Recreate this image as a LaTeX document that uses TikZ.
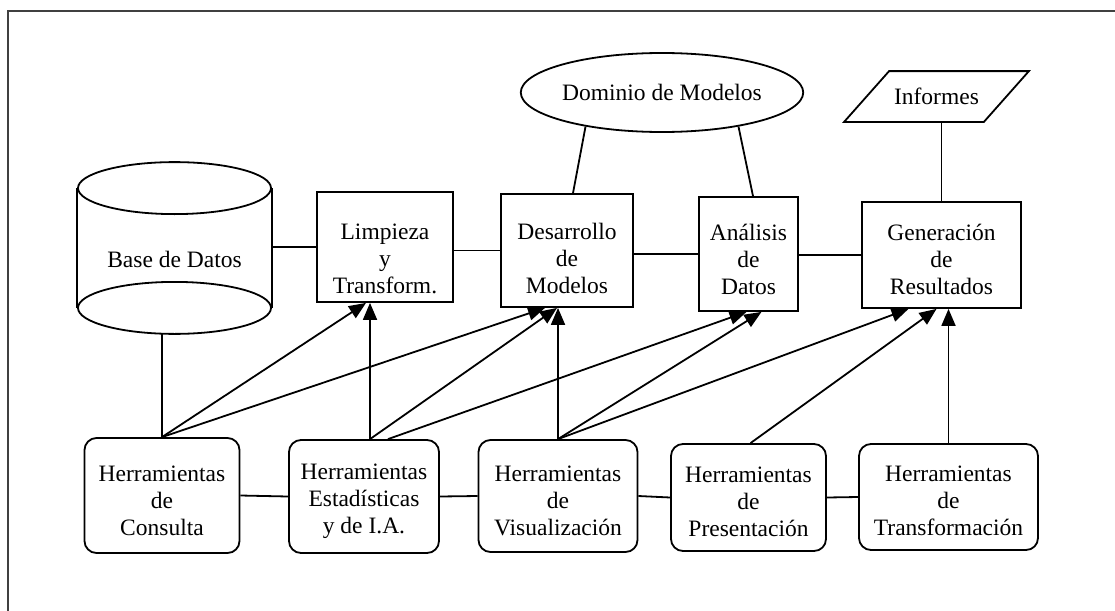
\documentclass[tikz,border=0pt]{standalone}
\usepackage{fontspec}
\setmainfont{Liberation Serif}
\usetikzlibrary{arrows.meta,shapes.geometric}

\begin{document}
\begin{tikzpicture}[x=1pt, y=-1pt, line width=1.8pt,
    every node/.style={align=center, font=\fontsize{23.5}{27}\selectfont},
    topbox/.style={draw, inner sep=0pt},
    toolbox/.style={draw, inner sep=0pt, rounded corners=12pt},
    arr/.style={-{Triangle[length=17pt,width=14pt]}}]
    \useasboundingbox (0,0) rectangle (1115,610);
    \draw[line width=2.2pt, black!75] (8,11) rectangle (1140,640);

    \node[minimum width=193pt, minimum height=170pt, inner sep=0pt,
          label={[yshift=-11pt]center:Base de Datos}] (db) at (174.5,248) {};
    \draw ([yshift=-26pt]db.north west) -- ([yshift=26pt]db.south west)
          ([yshift=-26pt]db.north east) -- ([yshift=26pt]db.south east);
    \draw ([yshift=-26pt]db.north) ellipse (96.5pt and 26pt);
    \draw ([yshift=26pt]db.south) ellipse (96.5pt and 26pt);

    \node[topbox, minimum width=136pt, minimum height=110pt,
          label={[yshift=-12pt]center:{Limpieza\\y\\Transform.}}] (lim) at (385,247) {};
    \node[topbox, minimum width=132pt, minimum height=113pt,
          label={[yshift=-8pt]center:{Desarrollo\\de\\Modelos}}] (dm) at (567,250.5) {};
    \node[topbox, minimum width=99pt, minimum height=114pt,
          label={[yshift=-5pt]center:{Análisis\\de\\Datos}}] (ad) at (748.5,254) {};
    \node[topbox, minimum width=159pt, minimum height=106pt,
          label={[yshift=-4pt]center:{Generación\\de\\Resultados}}] (gr) at (941.5,255) {};

    \node[draw, ellipse, minimum width=238pt, minimum height=79pt, inner sep=0pt] (dom) at (662,92.5) {Dominio de Modelos};
    \node[minimum width=138pt, minimum height=49pt, inner sep=0pt] (inf) at (936.5,96.5) {Informes};
    \draw ([xshift=-22.5pt]inf.south west) -- ([xshift=22.5pt]inf.north west)
          -- ([xshift=22.5pt]inf.north east) -- ([xshift=-22.5pt]inf.south east) -- cycle;

    \node[toolbox, minimum width=155pt, minimum height=115pt,
          label={[yshift=-5pt]center:{Herramientas\\de\\Consulta}}] (con) at (162,495.5) {};
    \node[toolbox, minimum width=150pt, minimum height=113pt,
          label={[yshift=-5pt]center:{Herramientas\\Estadísticas\\y de I.A.}}] (est) at (364,496.5) {};
    \node[toolbox, minimum width=159pt, minimum height=112pt,
          label={[yshift=-5pt]center:{Herramientas\\de\\Visualización}}] (vis) at (558,496) {};
    \node[toolbox, minimum width=155pt, minimum height=107pt,
          label={[yshift=-4pt]center:{Herramientas\\de\\Presentación}}] (pre) at (748.5,497.5) {};
    \node[toolbox, minimum width=179pt, minimum height=106pt,
          label={[yshift=-4pt]center:{Herramientas\\de\\Transformación}}] (tra) at (948.5,497) {};

    \draw (lim.west) -- (lim.west -| db.east);
    \draw (dm.west) -- (dm.west -| lim.east);
    \draw (ad.west) -- (ad.west -| dm.east);
    \draw (gr.west) -- (gr.west -| ad.east);
    \draw (dom.204) -- ([xshift=6pt]dm.north);
    \draw (dom.-24) -- ([xshift=4.5pt]ad.north);
    \draw (gr.north) -- (gr.north |- inf.south);
    \draw (con.north) -- (con.north |- db.south);

    \draw (con.east) -- (est.west);
    \draw (est.east) -- (vis.west);
    \draw (vis.east) -- (pre.west);
    \draw (pre.east) -- (tra.west);

    \draw[arr] (con.north) -- ([xshift=-19pt]lim.south);
    \draw[arr] (con.north) -- ([xshift=-22pt]dm.south);
    \draw[arr] ([xshift=6pt]est.north) -- ([xshift=-15pt]lim.south);
    \draw[arr] ([xshift=6pt]est.north) -- ([xshift=-10pt]dm.south);
    \draw[arr] ([xshift=24pt]est.north) -- ([xshift=-2pt]ad.south);
    \draw[arr] (vis.north) -- ([xshift=-9pt]dm.south);
    \draw[arr] (vis.north) -- ([xshift=13pt]ad.south);
    \draw[arr] (vis.north) -- ([xshift=-33pt]gr.south);
    \draw[arr] ([xshift=2pt]pre.north) -- ([xshift=-5pt]gr.south);
    \draw[arr] (tra.north) -- ([xshift=7pt]gr.south);
\end{tikzpicture}
\end{document}
